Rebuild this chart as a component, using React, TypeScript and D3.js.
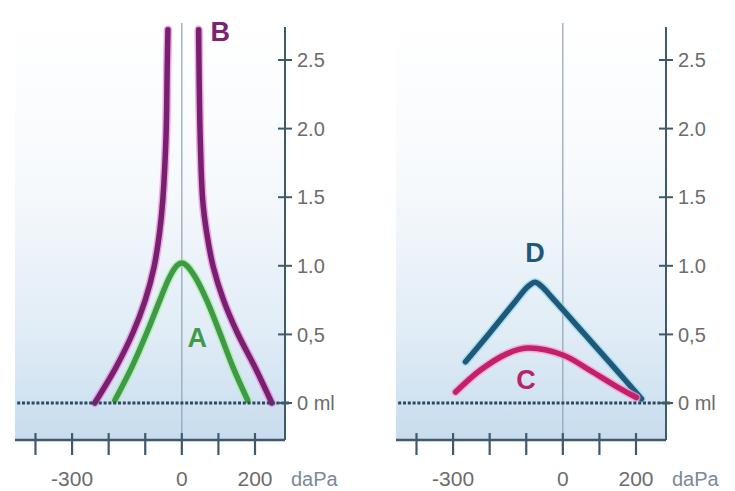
import React from "react";
import * as d3 from "d3";

// ---- data ----
const pressureTicks = [-400, -300, -200, -100, 0, 100, 200];
const pressureLabels = [-300, 0, 200];
const volumeTicks = [0, 0.5, 1.0, 1.5, 2.0, 2.5];
const volumeLabels = ["0 ml", "0,5", "1.0", "1.5", "2.0", "2.5"];

// Left panel: curve B (two branches) and curve A
const bLeftPressure = [-238, -180, -134, -100, -76, -61, -52, -43, -40, -38];
const bLeftVolume = [0, 0.26, 0.51, 0.75, 0.99, 1.24, 1.48, 1.96, 2.44, 2.72];
const bRightPressure = [46, 47, 50, 57, 68, 86, 114, 152, 200, 246];
const bRightVolume = [2.72, 2.44, 1.96, 1.48, 1.24, 0.99, 0.75, 0.51, 0.26, 0];
const aPressure = [-183, -137, -96, -60, -33, -14, 0, 14, 36, 68, 104, 140, 180];
const aVolume = [0.02, 0.26, 0.51, 0.75, 0.92, 1.0, 1.02, 1.0, 0.92, 0.75, 0.51, 0.26, 0.02];

// Right panel: curves D and C
const dPressure = [-266, -200, -130, -95, -76, -58, -30, 60, 140, 215];
const dVolume = [0.3, 0.51, 0.74, 0.85, 0.88, 0.85, 0.77, 0.5, 0.26, 0.03];
const cPressure = [-293, -225, -152, -98, 0, 73, 147, 201];
const cVolume = [0.08, 0.24, 0.36, 0.4, 0.35, 0.24, 0.12, 0.04];

type Curve = { p: number[]; v: number[]; color: string; halo: string };
type Label = { text: string; p: number; v: number; color: string };

const leftCurves: Curve[] = [
  { p: bLeftPressure, v: bLeftVolume, color: "#7a1f70", halo: "#e58ad8" },
  { p: bRightPressure, v: bRightVolume, color: "#7a1f70", halo: "#e58ad8" },
  { p: aPressure, v: aVolume, color: "#3d9a45", halo: "#a6ec9c" },
];
const leftLabels: Label[] = [
  { text: "B", p: 105, v: 2.71, color: "#7a2472" },
  { text: "A", p: 42, v: 0.48, color: "#3f9a4c" },
];
const rightCurves: Curve[] = [
  { p: dPressure, v: dVolume, color: "#1f5878", halo: "#8fd9ef" },
  { p: cPressure, v: cVolume, color: "#c41f6c", halo: "#f59ac8" },
];
const rightLabels: Label[] = [
  { text: "D", p: -76, v: 1.1, color: "#1f5878" },
  { text: "C", p: -101, v: 0.17, color: "#b8246c" },
];

const W = 735;
const H = 491;
const FONT = "'Liberation Sans', Arial, Helvetica, sans-serif";

function Panel({ x0, curves, labels, id }: { x0: number; curves: Curve[]; labels: Label[]; id: string }) {
  const x = d3.scaleLinear().domain([-456, 282]).range([x0 + 15, x0 + 285]);
  const y = d3.scaleLinear().domain([0, 2.5]).range([403, 60]);
  const axisX = x(282);
  const axisY = y(-0.27);
  const topY = y(2.74);
  const line = d3
    .line<[number, number]>()
    .x((d) => x(d[0]))
    .y((d) => y(d[1]))
    .curve(d3.curveCatmullRom.alpha(0.5));
  return (
    <g>
      <defs>
        <linearGradient id={id} x1="0" y1="0" x2="0" y2="1">
          <stop offset="0" stopColor="#ffffff" />
          <stop offset="0.4" stopColor="#f6f9fc" />
          <stop offset="0.75" stopColor="#e0ecf6" />
          <stop offset="0.91" stopColor="#d0e2f1" />
          <stop offset="1" stopColor="#c8dcee" />
        </linearGradient>
      </defs>
      <rect x={x(-456)} y={20} width={axisX - x(-456)} height={axisY - 20} fill={`url(#${id})`} />
      {/* zero pressure line */}
      <line x1={x(0)} x2={x(0)} y1={topY - 4} y2={axisY + 15} stroke="#8da3b6" strokeWidth={1.2} />
      {/* curves */}
      {curves.map((c, i) => {
        const pts = c.p.map((p, j) => [p, c.v[j]] as [number, number]);
        const dstr = line(pts) || "";
        return (
          <g key={i}>
            <path d={dstr} fill="none" stroke={c.halo} strokeWidth={8.5} strokeLinecap="round" strokeLinejoin="round" opacity={0.7} />
            <path d={dstr} fill="none" stroke={c.color} strokeWidth={5.5} strokeLinecap="round" strokeLinejoin="round" />
          </g>
        );
      })}
      {/* baseline 0 ml dotted */}
      <line x1={x(-450)} x2={axisX + 6} y1={y(0)} y2={y(0)} stroke="#2b4862" strokeWidth={3} strokeDasharray="3 1.8" />
      {/* axes */}
      <line x1={axisX} x2={axisX} y1={topY} y2={axisY} stroke="#3e5a6c" strokeWidth={2} />
      <line x1={x(-456)} x2={axisX} y1={axisY} y2={axisY} stroke="#3e5a6c" strokeWidth={2.5} />
      {volumeTicks.map((v, i) => (
        <g key={v}>
          <line x1={axisX - 7} x2={axisX + 7} y1={y(v)} y2={y(v)} stroke="#3e5a6c" strokeWidth={2} />
          <text x={axisX + 12} y={y(v)} dy="0.36em" fontSize={20} fontFamily={FONT} fill="#6c6c6c">
            {volumeLabels[i]}
          </text>
        </g>
      ))}
      {pressureTicks.map((p) => (
        <line key={p} x1={x(p)} x2={x(p)} y1={axisY - 7} y2={axisY + 15} stroke="#3e5a6c" strokeWidth={2.2} />
      ))}
      {pressureLabels.map((p) => (
        <text key={p} x={x(p)} y={486} textAnchor="middle" fontSize={21} fontFamily={FONT} fill="#6c6c6c">
          {p < 0 ? "-" + Math.abs(p) : String(p)}
        </text>
      ))}
      <text x={x(200) + 36} y={486} fontSize={20} fontFamily={FONT} fill="#7a8a98">
        daPa
      </text>
      {labels.map((l) => (
        <text key={l.text} x={x(l.p)} y={y(l.v)} dy="0.36em" textAnchor="middle" fontSize={27} fontWeight="bold" fontFamily={FONT} fill={l.color}>
          {l.text}
        </text>
      ))}
    </g>
  );
}

export default function App() {
  return (
    <svg width={W} height={H} style={{ position: "absolute", left: 0, top: 0, background: "#ffffff" }}>
      <rect width={W} height={H} fill="#ffffff" />
      <Panel x0={0} curves={leftCurves} labels={leftLabels} id="gl" />
      <Panel x0={381} curves={rightCurves} labels={rightLabels} id="gr" />
    </svg>
  );
}
